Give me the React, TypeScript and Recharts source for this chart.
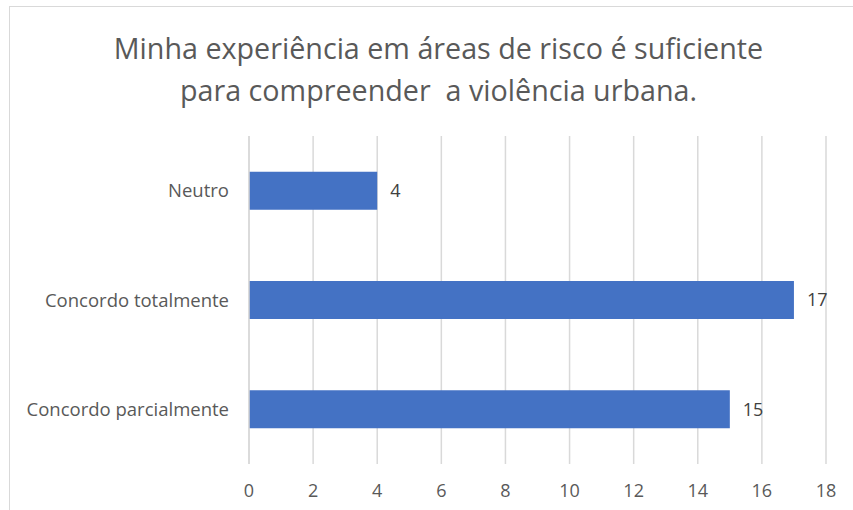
import React from "react";
import { BarChart, Bar, XAxis, YAxis, CartesianGrid, LabelList } from "recharts";

const categories = ["Neutro", "Concordo totalmente", "Concordo parcialmente"];
const values = [4, 17, 15];
const xTicks = [0, 2, 4, 6, 8, 10, 12, 14, 16, 18];
const titleLines = ["Minha experiência em áreas de risco é suficiente", "para compreender  a violência urbana."];

const data = categories.map((c, i) => ({ name: c, value: values[i] }));

const FONT = "'Open Sans', sans-serif";

export default function App() {
  return (
    <div style={{ position: "absolute", left: 0, top: 0, width: 853, height: 510, overflow: "hidden", background: "#fff", fontFamily: FONT }}>
      <div style={{ position: "absolute", left: 9, top: 6, width: 900, height: 600, border: "1.5px solid #d9d9d9", boxSizing: "border-box" }} />
      <div style={{ position: "absolute", left: 0, top: 27, width: 877, textAlign: "center", color: "#595959", fontSize: 28.7, lineHeight: "42px", whiteSpace: "pre" }}>
        {titleLines.map((l, i) => (
          <div key={i}>{l}</div>
        ))}
      </div>
      <div style={{ position: "absolute", left: 0, top: 0 }}>
        <BarChart
          width={853}
          height={510}
          data={data}
          layout="vertical"
          margin={{ top: 136, right: 27, bottom: 16, left: 0 }}
          barCategoryGap="32.6%"
        >
          <CartesianGrid horizontal={false} stroke="#d9d9d9" strokeWidth={1.5} />
          <XAxis
            type="number"
            domain={[0, 18]}
            ticks={xTicks}
            axisLine={false}
            tickLine={false}
            tickMargin={14}
            height={30}
            interval={0}
            tick={{ fill: "#595959", fontSize: 18, fontFamily: FONT }}
          />
          <YAxis
            type="category"
            dataKey="name"
            width={249}
            axisLine={{ stroke: "#d9d9d9", strokeWidth: 1.5 }}
            tickLine={false}
            tickMargin={14}
            tick={{ fill: "#595959", fontSize: 18.5, fontFamily: FONT }}
          />
          <Bar dataKey="value" fill="#4472C4" isAnimationActive={false}>
            <LabelList dataKey="value" position="right" offset={13} fill="#404040" fontSize={18} fontFamily={FONT} />
          </Bar>
        </BarChart>
      </div>
    </div>
  );
}
